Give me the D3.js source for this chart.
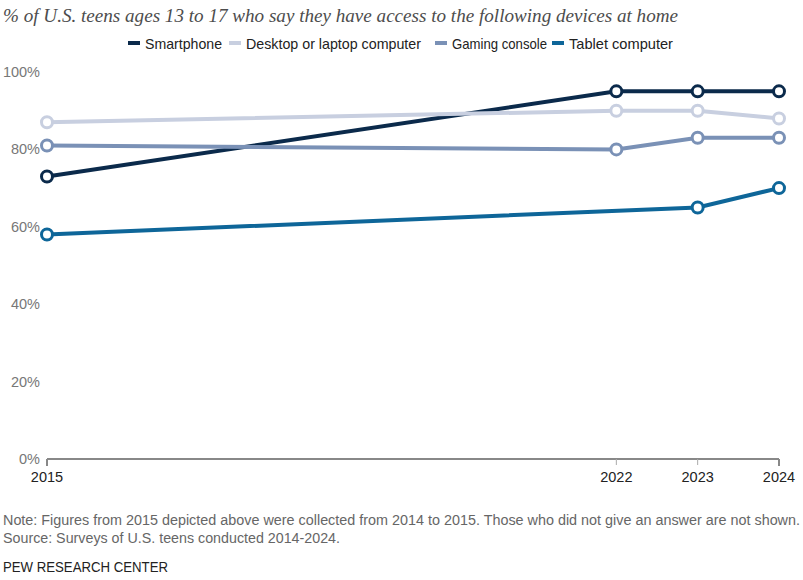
<!DOCTYPE html>
<html>
<head>
<meta charset="utf-8">
<script src="https://cdn.jsdelivr.net/npm/d3@7"></script>
<style>
  body { margin: 0; background: #fff; }
  svg { display: block; }
</style>
</head>
<body>
<div id="chart"></div>
<script>
const years = [2015, 2022, 2023, 2024];
const seriesNames = ["Smartphone", "Desktop or laptop computer", "Gaming console", "Tablet computer"];
const smartphone = [73, 95, 95, 95];
const desktop = [87, 90, 90, 88];
const gaming = [81, 80, 83, 83];
const tablet = [58, null, 65, 70];
const yTicks = [0, 20, 40, 60, 80, 100];
const colors = ["#0b2a4b", "#c8cfe0", "#7a91b6", "#0e6699"];

const width = 803, height = 580;

/** SVG */
let svg = d3.select("#chart")
  .append("svg")
  .attr("width", width)
  .attr("height", height);

/** SCALES */
let x = d3.scaleLinear().domain([2015, 2024]).range([47, 779]);
let y = d3.scaleLinear().domain([0, 100]).range([459, 72]);

/** TITLE */
svg.append("text")
  .text("% of U.S. teens ages 13 to 17 who say they have access to the following devices at home")
  .attr("x", 3)
  .attr("y", 22)
  .attr("font-family", "Liberation Serif")
  .attr("font-style", "italic")
  .attr("font-size", 19)
  .attr("textLength", 675)
  .attr("lengthAdjust", "spacingAndGlyphs")
  .style("fill", "#4d4d4d");

/** LEGEND */
let legendX = [128, 229, 435, 552];
let legendW = [77, 175, 95, 104];
let legend = svg.append("g").attr("id", "legend");
seriesNames.forEach((name, i) => {
  legend.append("rect")
    .attr("x", legendX[i])
    .attr("y", 41)
    .attr("width", 12)
    .attr("height", 4)
    .style("fill", colors[i]);
  legend.append("text")
    .text(name)
    .attr("x", legendX[i] + 17)
    .attr("y", 48.5)
    .attr("font-family", "Liberation Sans")
    .attr("font-size", 14.5)
    .attr("textLength", legendW[i])
    .attr("lengthAdjust", "spacingAndGlyphs")
    .style("fill", "#222");
});

/** Y AXIS LABELS */
svg.append("g")
  .selectAll("text")
  .data(yTicks).enter()
  .append("text")
  .text(d => d + "%")
  .attr("x", 40)
  .attr("y", d => y(d) + 5)
  .attr("text-anchor", "end")
  .attr("font-family", "Liberation Sans")
  .attr("font-size", 14.5)
  .style("fill", "#777");

/** X AXIS */
let xAxis = svg.append("g").attr("transform", `translate(0,${y(0)})`);
xAxis.append("line")
  .attr("x1", x(2015)).attr("x2", x(2024))
  .attr("y1", 0).attr("y2", 0)
  .style("stroke", "#888")
  .style("stroke-width", 2);
xAxis.selectAll("line.tick")
  .data(years).enter()
  .append("line")
  .attr("class", "tick")
  .attr("x1", d => x(d)).attr("x2", d => x(d))
  .attr("y1", 0)
  .attr("y2", d => (d === 2015 || d === 2024) ? 7 : 6)
  .style("stroke", d => (d === 2015 || d === 2024) ? "#888" : "#aaa")
  .style("stroke-width", d => (d === 2015 || d === 2024) ? 2 : 1);
xAxis.selectAll("text")
  .data(years).enter()
  .append("text")
  .text(d => d)
  .attr("x", d => x(d))
  .attr("y", 23)
  .attr("text-anchor", "middle")
  .attr("font-family", "Liberation Sans")
  .attr("font-size", 14.5)
  .style("fill", "#222");

/** LINES */
let allSeries = [smartphone, desktop, gaming, tablet];
let line = d3.line().x(d => x(d.year)).y(d => y(d.value));
let drawOrder = [0, 1, 2, 3];
drawOrder.forEach(i => {
  let pts = years.map((yr, j) => ({year: yr, value: allSeries[i][j]}))
    .filter(d => d.value !== null);
  let g = svg.append("g").attr("class", "series");
  g.append("path")
    .datum(pts)
    .attr("d", line)
    .style("fill", "none")
    .style("stroke", colors[i])
    .style("stroke-width", 4);
  g.selectAll("circle")
    .data(pts).enter()
    .append("circle")
    .attr("cx", d => x(d.year))
    .attr("cy", d => y(d.value))
    .attr("r", 5.5)
    .style("fill", "#fff")
    .style("stroke", colors[i])
    .style("stroke-width", 3);
});

/** NOTES */
let notes = [
  {t: "Note: Figures from 2015 depicted above were collected from 2014 to 2015. Those who did not give an answer are not shown.", y: 525, w: 797, c: "#666"},
  {t: "Source: Surveys of U.S. teens conducted 2014-2024.", y: 543, w: 337, c: "#666"},
  {t: "PEW RESEARCH CENTER", y: 572, w: 165, c: "#222"}
];
notes.forEach(n => {
  svg.append("text")
    .text(n.t)
    .attr("x", 3)
    .attr("y", n.y)
    .attr("font-family", "Liberation Sans")
    .attr("font-size", 14)
    .attr("textLength", n.w)
    .attr("lengthAdjust", "spacingAndGlyphs")
    .style("fill", n.c);
});
</script>
</body>
</html>
